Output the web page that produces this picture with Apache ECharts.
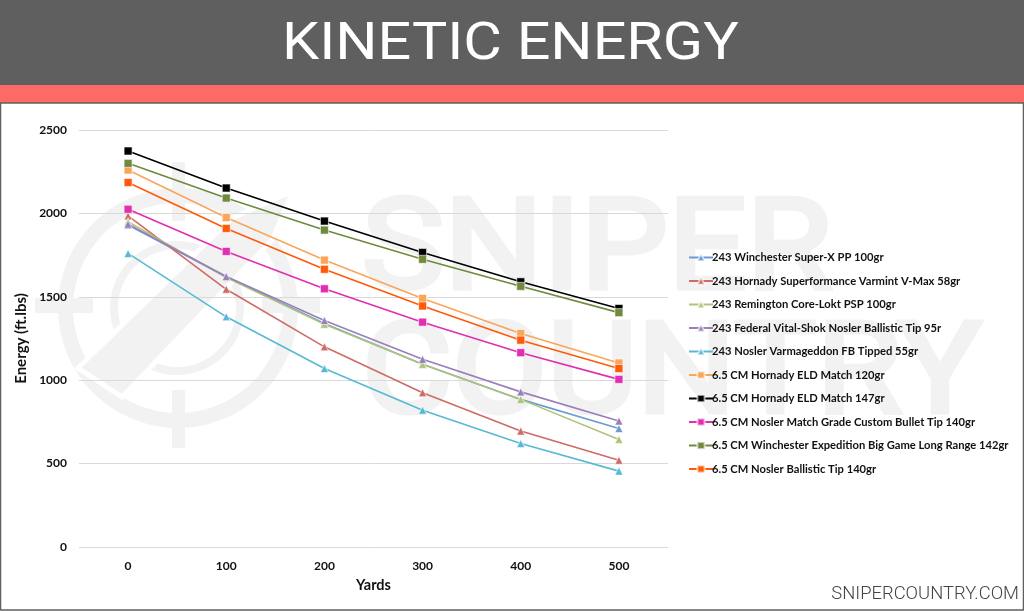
<!DOCTYPE html>
<html>
<head>
<meta charset="utf-8">
<style>html,body{margin:0;padding:0;background:#fff}#main{width:1024px;height:611px}</style>
<script src="https://cdn.jsdelivr.net/npm/echarts@6/dist/echarts.min.js"></script>
</head>
<body>
<div id="main"></div>
<script>
var yards = ["0", "100", "200", "300", "400", "500"];
var names = [
    "243 Winchester Super-X PP 100gr",
    "243 Hornady Superformance Varmint V-Max 58gr",
    "243 Remington Core-Lokt PSP 100gr",
    "243 Federal Vital-Shok Nosler Ballistic Tip 95r",
    "243 Nosler Varmageddon FB Tipped 55gr",
    "6.5 CM Hornady ELD Match 120gr",
    "6.5 CM Hornady ELD Match 147gr",
    "6.5 CM Nosler Match Grade Custom Bullet Tip 140gr",
    "6.5 CM Winchester Expedition Big Game Long Range 142gr",
    "6.5 CM Nosler Ballistic Tip 140gr"
];
var winchester100 = [1930, 1620, 1340, 1095, 885, 710];
var hornady58 = [1985, 1545, 1200, 925, 695, 520];
var remington100 = [1950, 1615, 1335, 1095, 885, 645];
var federal95 = [1935, 1622, 1358, 1125, 930, 755];
var nosler55 = [1760, 1380, 1070, 820, 620, 455];
var eld120 = [2260, 1975, 1720, 1490, 1280, 1103];
var eld147 = [2374, 2152, 1954, 1766, 1590, 1430];
var match140 = [2025, 1772, 1548, 1348, 1165, 1005];
var expedition142 = [2300, 2092, 1900, 1725, 1563, 1405];
var ballistic140 = [2185, 1910, 1665, 1445, 1240, 1070];

var allData = [winchester100, hornady58, remington100, federal95, nosler55,
    eld120, eld147, match140, expedition142, ballistic140];
var colors = ["#6a9bd3", "#cd6b66", "#aec47a", "#9a7fba", "#57b9d3",
    "#f9a65a", "#000000", "#e02fb0", "#6f8a3c", "#ff5a0a"];
var symbols = ["triangle", "triangle", "triangle", "triangle", "triangle",
    "rect", "rect", "rect", "rect", "rect"];

var seriesList = [];
for (var i = 0; i < names.length; i++) {
    seriesList.push({
        name: names[i],
        type: "line",
        data: allData[i],
        symbol: symbols[i],
        symbolSize: 8,
        showAllSymbol: true,
        z: 3 + i,
        lineStyle: { color: colors[i], width: 1.6 },
        itemStyle: { color: colors[i], borderColor: "rgba(255,255,255,0.6)", borderWidth: 1 },
        emphasis: { disabled: true },
        animation: false
    });
}

var wm = "#f2f2f2";
var graphicList = [
    // watermark
    { type: "ring", z: 0, silent: true, shape: { cx: 178, cy: 308, r: 120, r0: 105 }, style: { fill: wm } },
    { type: "ring", z: 0, silent: true, shape: { cx: 177, cy: 308, r: 67, r0: 59 }, style: { fill: wm } },
    { type: "rect", z: 0, silent: true, shape: { x: 172, y: 162, width: 13, height: 59 }, style: { fill: wm } },
    { type: "rect", z: 0, silent: true, shape: { x: 172, y: 390, width: 13, height: 58 }, style: { fill: wm } },
    { type: "rect", z: 0, silent: true, shape: { x: 35, y: 298, width: 58, height: 15 }, style: { fill: wm } },
    { type: "rect", z: 0, silent: true, shape: { x: 262, y: 298, width: 58, height: 15 }, style: { fill: wm } },
    { type: "polygon", z: 0, silent: true, shape: { points: [[293, 191], [232, 218], [78, 368], [122, 397], [272, 240]] }, style: { fill: wm, stroke: "#ffffff", lineWidth: 5 } },
    { type: "text", z: 0, silent: true, x: 362, y: 256, scaleX: 1.09, style: { text: "SNIPER", fill: wm, stroke: wm, lineWidth: 5, verticalAlign: "middle", font: "127px Roboto" } },
    { type: "text", z: 0, silent: true, x: 362, y: 380, scaleX: 1.09, style: { text: "COUNTRY", fill: wm, stroke: wm, lineWidth: 5, verticalAlign: "middle", font: "127px Roboto" } },
    // header
    { type: "rect", z: 1, silent: true, shape: { x: 0, y: 0, width: 1024, height: 85 }, style: { fill: "#5f5f5f" } },
    { type: "rect", z: 1, silent: true, shape: { x: 0, y: 85, width: 1024, height: 18 }, style: { fill: "#ff6b64" } },
    { type: "rect", z: 1, silent: true, shape: { x: 0.5, y: 103, width: 1023, height: 507 }, style: { fill: "none", stroke: "#5f5f5f", lineWidth: 1.5 } },
    { type: "text", z: 2, silent: true, x: 282, y: 46, scaleX: 1.14, style: { text: "KINETIC ENERGY", fill: "#ffffff", verticalAlign: "middle", font: "52px Roboto" } },
    { type: "text", z: 2, silent: true, x: 1019, y: 594, style: { text: "SNIPERCOUNTRY.COM", fill: "#444444", align: "right", verticalAlign: "middle", font: "300 18.4px Roboto" } }
];

var myChart = echarts.init(document.getElementById("main"));
myChart.setOption({
    animation: false,
    graphic: graphicList,
    grid: { left: 79, right: 356, top: 130, bottom: 64 },
    legend: {
        data: names,
        orient: "vertical",
        left: 683,
        top: 247,
        itemWidth: 24,
        itemHeight: 9,
        itemGap: 12.5,
        selectedMode: false,
        textStyle: { fontFamily: "Lato", fontWeight: "bold", fontSize: 11.2, color: "#111111", padding: [0, 0, 0, -6] }
    },
    xAxis: {
        type: "category",
        data: yards,
        name: "Yards",
        nameLocation: "middle",
        nameGap: 31,
        nameTextStyle: { fontFamily: "Lato", fontWeight: "bold", fontSize: 14.5, color: "#111111" },
        axisLine: { show: false },
        axisTick: { show: false },
        axisLabel: { fontFamily: "Lato", fontWeight: "bold", fontSize: 12, color: "#111111", margin: 13 }
    },
    yAxis: {
        type: "value",
        min: 0,
        max: 2500,
        interval: 500,
        name: "Energy (ft.lbs)",
        nameLocation: "middle",
        nameGap: 50,
        nameTextStyle: { fontFamily: "Lato", fontWeight: "bold", fontSize: 15, color: "#111111" },
        axisLine: { show: false },
        axisTick: { show: false },
        axisLabel: {
            fontFamily: "Lato", fontWeight: "bold", fontSize: 12, color: "#111111", margin: 12,
            formatter: function (v) { return String(v); }
        },
        splitLine: { lineStyle: { color: "#d9d9d9", width: 1 } }
    },
    series: seriesList
});
</script>
</body>
</html>
